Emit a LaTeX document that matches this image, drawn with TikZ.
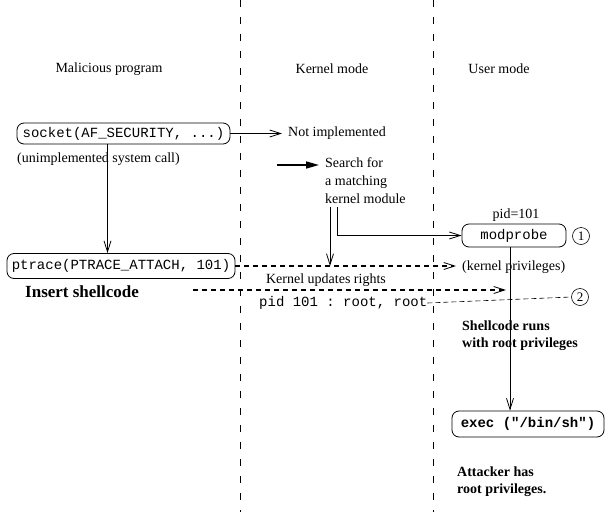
\documentclass[tikz,border=0pt]{standalone}
\usepackage{fontspec}
\setmainfont{Liberation Serif}
\setmonofont{Liberation Mono}
\usetikzlibrary{arrows.meta}

\begin{document}
\begin{tikzpicture}[
            x=1pt, y=-1pt,
            every node/.style={inner sep=0pt, font=\fontsize{14}{18}\selectfont},
            callbox/.style={draw, rounded corners=7pt, line width=0.8pt, font=\fontsize{14}{18}\selectfont\ttfamily},
            note/.style={anchor=west, align=left},
            boldnote/.style={note, font=\fontsize{14}{17}\selectfont\bfseries},
            stepnum/.style={circle, draw, line width=0.6pt, minimum size=17pt, font=\fontsize{13}{13}\selectfont},
            divider/.style={line width=0.7pt, dash pattern=on 7pt off 10pt},
            flow/.style={line width=0.8pt, -{Straight Barb[length=11pt,width=7pt,line width=0.8pt]}},
            kflow/.style={line width=1.8pt, dash pattern=on 5pt off 4pt, -{Straight Barb[length=11pt,width=7pt,line width=0.8pt]}},
            hint/.style={line width=1.6pt, -{Triangle[length=13pt,width=7pt]}},
            rights/.style={line width=0.6pt, dash pattern=on 5pt off 3pt},
        ]
        \useasboundingbox (0,0) rectangle (606,512);
        % columns
        \draw[divider] (240,0) -- (240,512);
        \draw[divider] (433,0) -- (433,512);
        \node (malicious) at (109,69) {Malicious program};
        \node (kernel) at (332,69) {Kernel mode};
        \node (user) at (499,69) {User mode};

        % system calls of the program
        \node[callbox, minimum width=213pt, minimum height=21pt] (socket) at (123.5,133.5) {socket(AF\_SECURITY, ...)};
        \node[note] (unimpl) at (17,159) {(unimplemented system call)};
        \node[callbox, minimum width=228pt, minimum height=25pt] (ptrace) at (121,266) {ptrace(PTRACE\_ATTACH, 101)};
        \node[note, font=\fontsize{17}{20}\selectfont\bfseries] (insert) at (25,292) {Insert shellcode};

        % kernel side
        \node[note] (notimpl) at (288,133) {Not implemented};
        \node[note, anchor=north west] (search) at (325,157) {Search for\\a matching\\kernel module};
        \node (updates) at (326,280) {Kernel updates rights};
        \node[note, font=\fontsize{14}{18}\selectfont\ttfamily] (pidroot) at (259,303) {pid 101 : root, root};

        % user side
        \node[callbox, minimum width=104pt, minimum height=23pt] (modprobe) at (514,235.5) {modprobe};
        \node (pid) at (516,215) {pid=101};
        \node[note] (kpriv) at (462,267) {(kernel privileges)};
        \node[stepnum] (one) at (581,236) {1};
        \node[stepnum] (two) at (580,297) {2};
        \node[boldnote] (runs) at (462,336) {Shellcode runs\\with root privileges};
        \node[callbox, font=\fontsize{14}{18}\selectfont\ttfamily\bfseries, minimum width=152pt, minimum height=26pt] (exec) at (528,424) {exec ("/bin/sh")};
        \node[boldnote] (owned) at (457,482) {Attacker has\\root privileges.};

        % connectors
        \coordinate (hintstart) at (277,165);
        \coordinate (inject) at (193,290);
        \draw[flow] (socket.east) -- ([xshift=-6pt]socket.east -| notimpl.west);
        \draw[hint] (hintstart) -- ([xshift=-6pt]hintstart -| search.west);
        \draw[flow] ([xshift=-16pt]socket.south) -- ([xshift=-16pt]socket.south |- ptrace.north);
        \draw[kflow] (ptrace.east) -- ([xshift=-6pt]ptrace.east -| kpriv.west);
        \draw[flow] ([xshift=5pt,yshift=-4pt]search.south west) coordinate (k1) -- (k1 |- ptrace.east);
        \draw[flow] ([xshift=12pt,yshift=-4pt]search.south west) |- (modprobe.west);
        \draw[kflow] (inject) -- ([xshift=-8pt]inject -| modprobe.south);
        \draw[rights] (pidroot.east) -- (two.west);
        \draw[flow] ([xshift=-4pt]modprobe.south) -- ([xshift=-4pt]modprobe.south |- exec.north);
        \end{tikzpicture}
\end{document}
